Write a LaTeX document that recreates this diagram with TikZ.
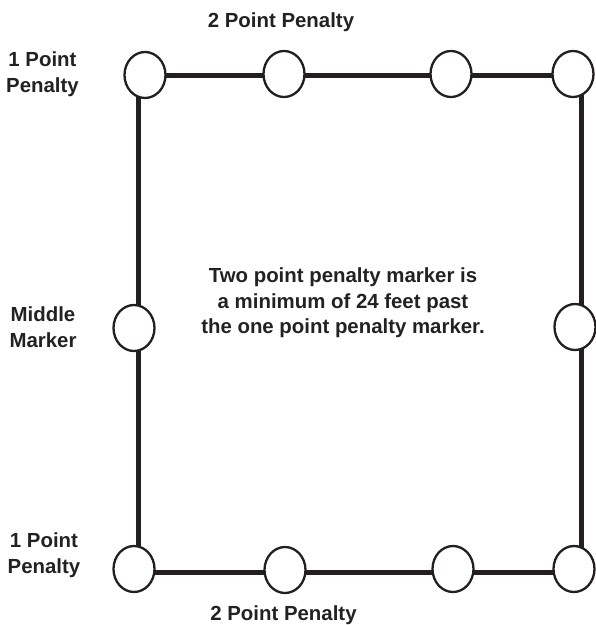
\documentclass[tikz,border=0pt]{standalone}
\usepackage{fontspec}
\setmainfont{Liberation Sans}
\usetikzlibrary{shapes.geometric,backgrounds}
\definecolor{ink}{HTML}{231F20}
\definecolor{txt}{HTML}{222222}
\tikzset{
  marker/.style={ellipse,draw=ink,line width=2.3pt,fill=white,minimum width=41pt,minimum height=46pt,inner sep=0pt},
  rope/.style={draw=ink,line width=5pt},
  lbl/.style={inner sep=0pt,align=center,text=txt,font=\fontsize{20.4}{25.5}\selectfont\bfseries}
}
\begin{document}
\begin{tikzpicture}[x=1pt,y=-1pt]
\useasboundingbox (0,0) rectangle (596,625);
% markers
\node[marker] (tl) at (145,75) {};
\node[marker] (t2) at (284,74) {};
\node[marker] (t3) at (451,74) {};
\node[marker] (tr) at (573,74) {};
\node[marker] (ml) at (134,328) {};
\node[marker] (mr) at (575,327) {};
\node[marker] (bl) at (134,569) {};
\node[marker] (b2) at (285,570) {};
\node[marker] (b3) at (453,569) {};
\node[marker] (br) at (574,569) {};
\coordinate (L) at (138,0);
\coordinate (R) at (581.5,0);
\begin{pgfonlayer}{background}
\draw[rope] (tl.center) -- (t2.center |- tl.center) -- (t3.center |- tl.center) -- (tr.center |- tl.center);
\draw[rope] (bl.center |- 0,572) -- (b2.center |- 0,572) -- (b3.center |- 0,572) -- (br.center |- 0,572);
\draw[rope] (tl.center -| L) -- (ml.center -| L) -- (bl.center -| L);
\draw[rope] (tr.center -| R) -- (mr.center -| R) -- (br.center -| R);
\end{pgfonlayer}
% labels
\node[lbl] (toplbl) at (281,22.7) {2 Point Penalty};
\node[lbl] (botlbl) at (283.5,615.7) {2 Point Penalty};
\node[lbl] (tllbl) at (42.5,74.4) {1 Point\\Penalty};
\node[lbl] (mllbl) at (43,327) {Middle\\Marker};
\node[lbl] (bllbl) at (44,555.4) {1 Point\\Penalty};
\node[lbl] (note) at (343,303.2) {Two point penalty marker is\\a minimum of 24 feet past\\the one point penalty marker.};
\end{tikzpicture}
\end{document}
